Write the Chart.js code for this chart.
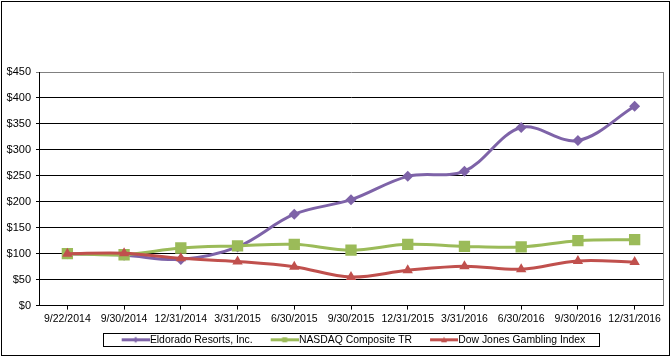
<!DOCTYPE html>
<html><head><meta charset="utf-8">
<script src="https://cdn.jsdelivr.net/npm/chart.js@4/dist/chart.umd.min.js"></script>
<style>html,body{margin:0;padding:0;background:#fff}</style>
</head><body>
<canvas id="c" width="672" height="357" style="display:block;width:672px;height:357px"></canvas>
<script>
const categories = ['9/22/2014','9/30/2014','12/31/2014','3/31/2015','6/30/2015','9/30/2015','12/31/2015','3/31/2016','6/30/2016','9/30/2016','12/31/2016'];
const seriesNames = ['Eldorado Resorts, Inc.','NASDAQ Composite TR','Dow Jones Gambling Index'];
const eldorado = [100, 97, 89, 113, 176, 204, 249, 259, 343, 318, 384];
const nasdaq   = [100, 98, 111, 115, 118, 107, 118, 114, 113, 125, 127];
const dowJones = [100, 101, 91, 85, 75, 55, 68, 76, 70, 86, 84];
const yMin = 0, yMax = 450, yStep = 50;

const colors = ['#7E63A8', '#9BBB59', '#C0504D'];
const styles = ['rectRot', 'rect', 'triangle'];
const FONT = '"Liberation Sans", Arial, sans-serif';
const LEGEND_PAD = 5;

function legendImg(color, style) {
  const c = document.createElement('canvas');
  c.width = 46; c.height = 9;
  const g = c.getContext('2d');
  g.strokeStyle = color; g.lineWidth = 3;
  g.beginPath(); g.moveTo(18, 4.5); g.lineTo(46, 4.5); g.stroke();
  g.fillStyle = color;
  const m = 32;
  g.beginPath();
  if (style === 'rectRot') { g.moveTo(m, 1.5); g.lineTo(m + 3, 4.5); g.lineTo(m, 7.5); g.lineTo(m - 3, 4.5); }
  else if (style === 'rect') { g.rect(m - 2.5, 2, 5, 5); }
  else { g.moveTo(m, 1.5); g.lineTo(m + 3, 7); g.lineTo(m - 3, 7); }
  g.closePath(); g.fill();
  return c;
}
const legendImgs = colors.map((c, i) => legendImg(c, styles[i]));

const LEGEND_SHIFT = 15.5;
const framePlugin = {
  id: 'frame',
  afterLayout(chart) {
    const lg = chart.legend;
    lg.left += LEGEND_SHIFT; lg.right += LEGEND_SHIFT;
  },
  beforeDraw(chart) {
    const ctx = chart.ctx;
    ctx.save(); ctx.fillStyle = '#fff'; ctx.fillRect(0, 0, chart.width, chart.height); ctx.restore();
  },
  afterDraw(chart) {
    const ctx = chart.ctx, a = chart.chartArea;
    ctx.save();
    ctx.strokeStyle = '#808080'; ctx.lineWidth = 1;
    ctx.beginPath(); ctx.moveTo(Math.round(a.right) + 0.5, a.top); ctx.lineTo(Math.round(a.right) + 0.5, a.bottom); ctx.stroke();
    ctx.strokeStyle = '#000'; ctx.lineWidth = 1;
    ctx.strokeRect(1.5, 1.5, chart.width - 4, chart.height - 3);
    const lg = chart.legend;
    const hb = lg.legendHitBoxes;
    if (hb && hb.length && lg.lineWidths) {
      const lw = lg.lineWidths[0];
      const x0 = (lg.left + LEGEND_PAD + lg.right - lw) / 2;
      const l = x0 - 6;
      const r = x0 + lw - LEGEND_PAD + 13;
      const cy = hb[0].top + hb[0].height / 2;
      ctx.strokeRect(Math.round(l) + 0.5, Math.round(cy - 6.5) + 0.5, Math.round(r - l), 13);
    }
    ctx.restore();
  }
};

const mk = (i, data, order, radius) => ({
  label: seriesNames[i], data, order,
  borderColor: colors[i], backgroundColor: colors[i],
  borderWidth: 3, tension: 0.35,
  pointStyle: styles[i], pointRadius: radius, pointHoverRadius: radius,
  pointBorderWidth: 0, pointBackgroundColor: colors[i]
});

new Chart(document.getElementById('c'), {
  type: 'line',
  data: {
    labels: categories,
    datasets: [mk(0, eldorado, 3, 5.5), mk(1, nasdaq, 2, 8), mk(2, dowJones, 1, 6)]
  },
  options: {
    responsive: false, animation: false, devicePixelRatio: 1,
    layout: { padding: { top: 72, left: 0, right: 9, bottom: 2 } },
    font: { family: FONT, size: 11 },
    plugins: {
      tooltip: { enabled: false },
      legend: {
        position: 'bottom',
        labels: {
          color: '#000', font: { size: 10.4, family: FONT },
          usePointStyle: true, pointStyleWidth: 36, padding: LEGEND_PAD,
          generateLabels(chart) {
            return chart.data.datasets.map((ds, i) => ({
              text: ds.label, fillStyle: ds.borderColor, strokeStyle: ds.borderColor,
              lineWidth: 0, pointStyle: legendImgs[i], datasetIndex: i, hidden: false
            }));
          }
        }
      }
    },
    scales: {
      x: {
        offset: true,
        grid: { display: true, drawOnChartArea: false, drawTicks: true, tickLength: 4, offset: false, color: '#000' },
        border: { color: '#000', width: 1 },
        ticks: { color: '#000', padding: 3, maxRotation: 0, autoSkip: false, font: { size: 10.5, family: FONT } },
        afterFit(s) { s.height = 24; }
      },
      y: {
        min: yMin, max: yMax,
        grid: { color: ctx => (ctx.tick && ctx.tick.value === yMax) ? '#808080' : '#000', lineWidth: 1, tickLength: 3 },
        border: { color: '#000', width: 1 },
        ticks: { stepSize: yStep, color: '#000', padding: 5, font: { size: 11, family: FONT }, callback: v => '$' + v },
        afterFit(s) { s.width = 39; }
      }
    }
  },
  plugins: [framePlugin]
});
</script>
</body></html>
